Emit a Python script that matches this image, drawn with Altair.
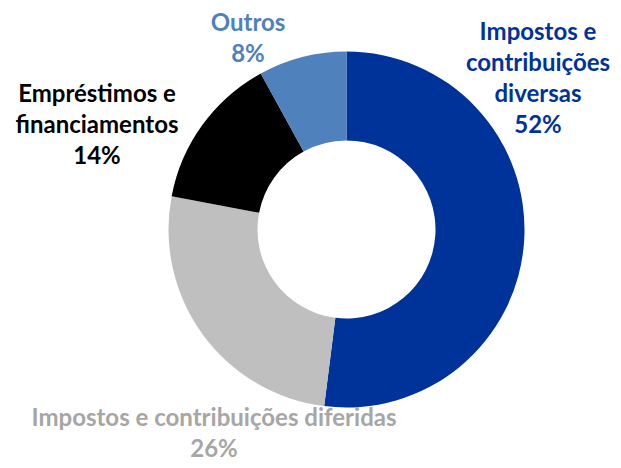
import altair as alt
import pandas as pd

# ---- data ----
categories = [
    "Impostos e contribuições diversas",
    "Impostos e contribuições diferidas",
    "Empréstimos e financiamentos",
    "Outros",
]
values = [52, 26, 14, 8]
colors = ["#003399", "#BFBFBF", "#000000", "#4F81BD"]
label_colors = ["#003399", "#A6A6A6", "#000000", "#4F81BD"]

df = pd.DataFrame({"cat": categories, "value": values, "order": list(range(len(values)))})

# ---- layout ----
CX, CY = 338.5, 221.5
wrapped = {
    "Impostos e contribuições diversas": "Impostos e\ncontribuições\ndiversas",
    "Impostos e contribuições diferidas": "Impostos e contribuições diferidas",
    "Empréstimos e financiamentos": "Empréstimos e\nfinanciamentos",
    "Outros": "Outros",
}
label_pos = {
    "Impostos e contribuições diversas": (530, 32),
    "Impostos e contribuições diferidas": (206, 418),
    "Empréstimos e financiamentos": (89, 94),
    "Outros": (240, 23),
}

ring = alt.Chart(df).mark_arc(outerRadius=178, innerRadius=89).encode(
    theta=alt.Theta("value:Q", stack=True),
    order=alt.Order("order:Q"),
    color=alt.Color("cat:N", scale=alt.Scale(domain=categories, range=colors), legend=None),
    x=alt.value(CX),
    y=alt.value(CY),
)

layers = [ring]
for cat, lc in zip(categories, label_colors):
    px, py = label_pos[cat]
    t = (
        alt.Chart(df)
        .transform_filter(alt.datum.cat == cat)
        .transform_calculate(lbl=alt.expr.replace(wrapped[cat], "", "") + "\n" + alt.datum.value + "%")
        .mark_text(
            font="Lato",
            fontWeight="bold",
            fontSize=24,
            lineBreak="\n",
            lineHeight=31,
            align="center",
            baseline="alphabetic",
            color=lc,
        )
        .encode(text="lbl:N", x=alt.value(px), y=alt.value(py))
    )
    layers.append(t)

chart = (
    alt.layer(*layers)
    .properties(width=605, height=452, autosize="none", padding=0)
    .configure_view(stroke=None)
)

chart.save("out.html", embed_options={"renderer": "svg", "actions": False})
